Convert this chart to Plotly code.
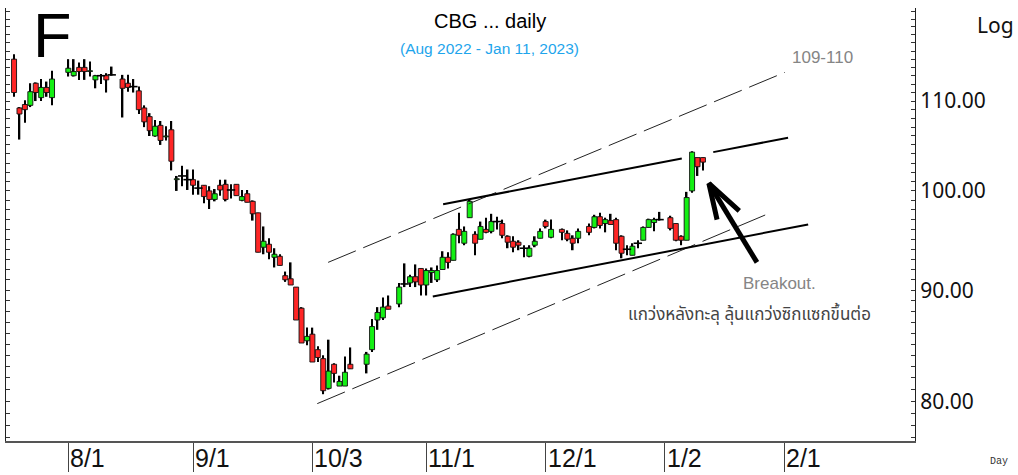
import numpy as np
import pandas as pd
import plotly.graph_objects as go

# ---------------- data ----------------
holidays = ["2022-07-28", "2022-07-29", "2022-08-12", "2022-10-13", "2022-10-14",
            "2022-10-24", "2022-12-05", "2022-12-12", "2023-01-02"]
dates = [d for d in pd.bdate_range("2022-07-18", "2023-01-11")
         if d.strftime("%Y-%m-%d") not in holidays]

open_ = [115.0, 109.2, 109.6, 109.5, 112.1, 110.4, 111.6, 110.4,
         113.4, 113.0, 114.0, 114.0, 113.5, 112.5, 113.0, 113.0, 113.1, 112.6, 112.1, 111.7, 111.2, 109.2, 108.2, 106.0, 107.2, 105.9, 106.7, 101.2, 101.6, 101.2,
         101.2, 100.3, 100.6, 100.0, 99.1, 100.6, 100.7, 100.1, 100.7, 99.0, 99.7, 98.9, 97.7, 94.2, 94.5, 93.2, 93.3, 91.4, 91.1, 90.3, 88.3, 85.3,
         85.9, 84.5, 83.7, 81.1, 83.2, 81.3, 81.3, 83.2, 83.2, 84.5, 87.2, 87.4, 88.5, 88.7, 90.6, 90.7, 91.3, 92.1,
         90.5, 91.7, 91.0, 92.0, 93.2, 92.9, 96.0, 94.6, 97.2, 95.5, 95.0, 96.0, 95.8, 96.8, 96.6, 95.3, 94.8, 94.7, 94.1, 93.3, 94.4, 95.1,
         96.8, 95.2, 96.0, 95.6, 95.1, 95.1, 96.3, 96.2, 97.3, 96.6, 96.9, 97.0, 95.3, 94.0, 93.4, 94.6, 94.9, 96.2, 96.7, 97.0,
         97.2, 96.6, 95.3, 94.9, 100.0, 103.6, 103.6]
high = [115.6, 109.3, 110.1, 112.1, 112.2, 112.6, 112.3, 113.6,
        115.0, 115.0, 114.6, 115.0, 114.7, 113.1, 113.2, 113.3, 114.1, 113.1, 113.1, 112.6, 111.7, 109.5, 108.6, 107.8, 107.7, 107.1, 107.7, 101.6, 102.7, 102.3,
        102.3, 101.1, 100.6, 100.5, 100.2, 101.2, 101.2, 100.7, 100.7, 100.1, 100.1, 99.0, 97.7, 96.3, 95.1, 94.1, 93.5, 91.8, 92.7, 90.3, 88.4, 86.5,
        86.5, 84.8, 84.0, 85.4, 83.3, 82.2, 83.9, 84.7, 84.3, 87.3, 88.4, 89.3, 89.5, 90.7, 92.6, 91.5, 92.5, 92.1,
        92.1, 92.2, 92.4, 93.8, 93.7, 95.6, 97.7, 96.3, 99.1, 95.8, 96.8, 97.2, 97.6, 97.3, 97.0, 95.4, 95.3, 94.9, 94.4, 94.4, 95.3, 96.1,
        97.0, 97.0, 96.1, 95.9, 95.4, 96.1, 96.6, 97.5, 97.7, 97.2, 97.6, 97.2, 95.4, 94.4, 94.6, 94.9, 96.3, 97.1, 97.2, 97.8,
        97.4, 96.6, 95.4, 99.9, 104.3, 103.6, 103.6]
low = [110.5, 105.6, 107.5, 109.3, 110.0, 110.0, 110.5, 109.5,
       112.9, 112.9, 112.5, 112.5, 112.9, 111.5, 112.0, 111.0, 113.0, 108.1, 111.1, 111.0, 108.5, 107.0, 106.0, 105.9, 105.0, 105.5, 102.2, 100.0, 100.5, 100.1,
       99.6, 99.6, 98.7, 98.1, 98.9, 99.5, 98.9, 99.2, 99.5, 98.9, 98.8, 96.9, 93.7, 93.5, 93.0, 92.2, 92.4, 90.8, 90.5, 87.2, 85.1, 84.9,
       83.4, 83.4, 80.6, 81.0, 81.6, 81.3, 81.3, 82.8, 82.4, 84.3, 86.3, 87.2, 88.2, 88.4, 90.3, 90.3, 90.3, 89.5,
       89.5, 90.7, 90.8, 92.0, 92.1, 92.9, 94.6, 94.4, 97.2, 93.4, 95.0, 95.6, 95.6, 96.0, 95.1, 94.1, 93.7, 93.9, 93.2, 93.2, 94.2, 95.1,
       96.1, 95.1, 94.9, 94.8, 93.9, 94.6, 95.4, 96.1, 96.1, 95.7, 96.5, 93.9, 93.1, 93.4, 93.4, 94.1, 94.9, 96.2, 95.8, 96.9,
       95.9, 94.8, 94.4, 94.9, 99.8, 101.6, 102.2]
close = [111.0, 108.5, 109.0, 111.1, 111.0, 111.6, 111.0, 112.6,
         113.9, 113.5, 113.5, 113.5, 113.6, 113.0, 113.0, 112.5, 113.1, 111.5, 111.6, 111.7, 109.0, 107.6, 106.6, 107.1, 105.5, 106.0, 103.2, 101.3, 101.6, 101.2,
         100.6, 100.3, 99.4, 99.1, 99.7, 100.1, 99.1, 100.1, 99.5, 99.4, 98.8, 97.6, 93.7, 94.8, 93.7, 93.5, 92.4, 91.0, 90.5, 87.2, 85.1, 85.7,
         83.4, 83.8, 80.9, 82.6, 82.4, 81.7, 82.5, 82.8, 84.1, 86.6, 87.9, 88.4, 88.2, 90.3, 90.6, 91.3, 90.8, 90.5,
         91.9, 91.9, 91.9, 93.2, 92.7, 95.5, 95.4, 95.8, 98.9, 94.6, 96.3, 95.7, 96.8, 96.8, 95.4, 94.7, 94.2, 94.4, 94.1, 94.1, 94.8, 95.8,
         96.3, 96.0, 95.7, 95.0, 94.6, 95.8, 95.7, 97.3, 96.4, 97.0, 96.5, 94.6, 93.6, 94.0, 94.3, 94.6, 96.2, 97.0, 97.0, 97.0,
         96.1, 94.9, 94.9, 99.3, 104.2, 102.6, 103.1]

tick_dates = ["2022-08-01", "2022-09-01", "2022-10-03", "2022-11-01",
              "2022-12-01", "2023-01-02", "2023-02-01"]
tick_labels = ["8/1", "9/1", "10/3", "11/1", "12/1", "1/2", "2/1"]

price_ticks = [80, 90, 100, 110]

# analyst drawings (x in weekday index, y in price)
chan_upper_x = [57.9, 142.1]
chan_upper_y = [92.7, 113.4]
chan_lower_x = [55.9, 139.0]
chan_lower_y = [79.8, 97.6]
resist_x = [79.1, 123.1, None, 128.9, 142.7]
resist_y = [98.6, 103.5, None, 104.2, 105.8]
support_x = [77.2, 146.4]
support_y = [89.4, 96.5]
arrow_x = [133.7, 128.1, 129.6, None, 128.1, 136.96]
arrow_y = [97.9, 100.8, 97.0, None, 100.8, 92.7]

# ---------------- figure ----------------
base = np.datetime64("2022-07-18")
xi = [int(np.busday_count(base, np.datetime64(d.date()))) for d in dates]
tick_x = [int(np.busday_count(base, np.datetime64(t))) for t in tick_dates]

o = np.array(open_)
c = np.array(close)
hi = np.array(high)
lo = np.array(low)
body_lo = np.minimum(o, c)
body_h = np.abs(c - o)
up = c > o
dn = c < o
flat = c == o

GREEN, RED = "#14f014", "#ff2626"

fig = go.Figure()
# wicks
fig.add_trace(go.Bar(x=xi, y=hi - lo, base=lo, width=0.3,
                     marker=dict(color="#000", line=dict(width=0)), hoverinfo="skip"))
# bodies
body_colors = np.where(up, GREEN, RED)
sel = ~flat
fig.add_trace(go.Bar(x=np.array(xi)[sel], y=body_h[sel], base=body_lo[sel], width=0.92,
                     marker=dict(color=body_colors[sel].tolist(),
                                 line=dict(color="#111", width=0.9)),
                     hoverinfo="skip"))
# doji bars
fig.add_trace(go.Scatter(x=np.array(xi)[flat], y=c[flat], mode="markers",
                         marker=dict(symbol="line-ew", size=6,
                                     line=dict(color="#000", width=1.6)),
                         hoverinfo="skip"))

dash_style = "30px,8px"
fig.add_trace(go.Scatter(x=chan_upper_x, y=chan_upper_y, mode="lines",
                         line=dict(color="#222", width=1, dash=dash_style), hoverinfo="skip"))
fig.add_trace(go.Scatter(x=chan_lower_x, y=chan_lower_y, mode="lines",
                         line=dict(color="#222", width=1, dash=dash_style), hoverinfo="skip"))
fig.add_trace(go.Scatter(x=resist_x, y=resist_y, mode="lines",
                         line=dict(color="#000", width=2), hoverinfo="skip"))
fig.add_trace(go.Scatter(x=support_x, y=support_y, mode="lines",
                         line=dict(color="#000", width=2), hoverinfo="skip"))
fig.add_trace(go.Scatter(x=arrow_x, y=arrow_y, mode="lines",
                         line=dict(color="#000", width=5), hoverinfo="skip"))

L, R, T, B = 6, 915, 8, 440.7
W, H = 1018, 475


def P(px, py):
    return (px - L) / (R - L), (B - py) / (B - T)


ann = []


def txt(text, px, py, size, color="#000", family="Liberation Sans, Arial, sans-serif",
        xanchor="center"):
    x, y = P(px, py)
    ann.append(dict(text=text, x=x, y=y, xref="paper", yref="paper", showarrow=False,
                    xanchor=xanchor, yanchor="middle",
                    font=dict(size=size, color=color, family=family)))


txt("F", 52, 35, 63)
txt("CBG ... daily", 490, 20.5, 20)
txt("(Aug 2022 - Jan 11, 2023)", 490, 48.5, 15.5, color="#1ea5ec")
txt("Log", 995, 25, 21, color="#111", family="Noto Sans, Open Sans, sans-serif")
txt("Day", 999, 461, 10, color="#333", family="Liberation Mono, DejaVu Sans Mono, monospace")
txt("109-110", 822, 57, 17, color="#858585")
txt("Breakout.", 779, 283, 17, color="#858585")
txt("แกว่งหลังทะลุ ลุ้นแกว่งซิกแซกขึ้นต่อ", 749, 315, 17, color="#444",
    family="Noto Sans Thai, Noto Sans, sans-serif")

for tx, tl in zip(tick_x, tick_labels):
    ann.append(dict(text=tl, x=tx, xref="x", y=P(0, 457.5)[1], yref="paper",
                    showarrow=False, xanchor="left", yanchor="middle", xshift=0,
                    font=dict(size=25, color="#111", family="Liberation Sans, Arial, sans-serif")))

x0 = (L - 14.06) / 5.4242
x1 = (R - 14.06) / 5.4242
p_top = 110 * np.exp((101 - T) / 942)
p_bot = 110 * np.exp((101 - B) / 942)

ytv = list(range(77, 122))
ytt = [f"{v:.2f}" if v in price_ticks else "" for v in ytv]

fig.update_layout(
    width=W, height=H, margin=dict(l=L, r=W - R, t=T, b=H - B, pad=0, autoexpand=False),
    paper_bgcolor="white", plot_bgcolor="white", showlegend=False,
    barmode="overlay", annotations=ann,
    xaxis=dict(range=[x0, x1], showgrid=False, zeroline=False, showline=True,
               linecolor="#555", linewidth=2, ticks="outside", ticklen=29,
               tickcolor="#444", tickwidth=1, tickvals=tick_x,
               showticklabels=False),
    yaxis=dict(type="log", range=[np.log10(p_bot), np.log10(p_top)], side="right",
               showgrid=False, zeroline=False, showline=True, linecolor="#222",
               linewidth=1, mirror="ticks", ticks="inside", ticklen=4,
               tickcolor="#333", tickvals=ytv, ticktext=ytt,
               tickfont=dict(size=21, color="#111", family="Noto Sans, Open Sans, sans-serif")),
)

fig.write_html(
    "out.html",
    config={"displayModeBar": False},
    post_script="document.body.style.margin='0px';document.body.style.overflow='hidden';",
)
